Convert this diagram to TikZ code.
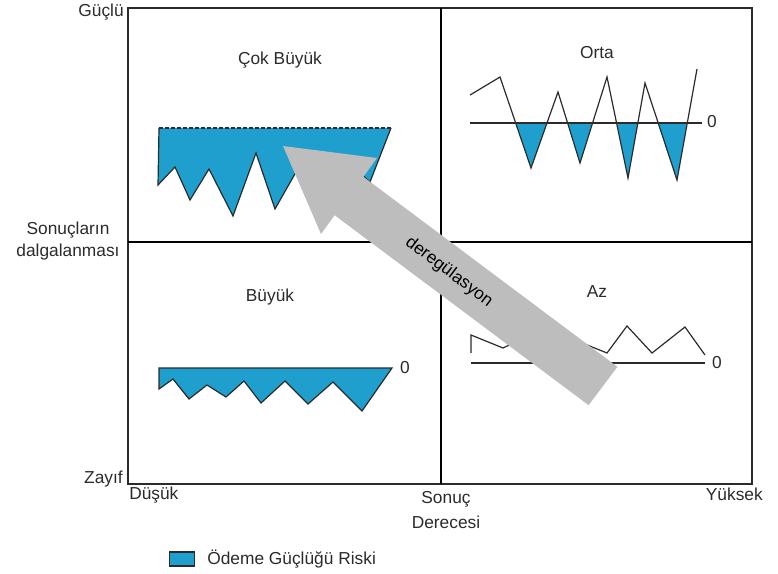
\documentclass[tikz,border=0pt]{standalone}
\usepackage{fontspec}
\setsansfont{Liberation Sans}
\usepackage{tikz}
\usetikzlibrary{positioning}
\definecolor{cRisk} {HTML}{1E9FCE}
\definecolor{cArrow}{HTML}{BDBDBD}
\definecolor{cInk}  {HTML}{2B2B2B}

\begin{document}
\begin{tikzpicture}[x=0.75pt, y=-0.75pt,
    lbl/.style={font=\sffamily\fontsize{13}{16.5}\selectfont, text=cInk, inner sep=0pt},
    curve/.style={draw=cInk, line width=0.9pt, line join=miter},
    frame/.style={draw=cInk, line width=1pt},
    divider/.style={draw=black, line width=1.9pt}]
  \useasboundingbox (0,0) rectangle (778,574);

  % frame and quadrants
  \draw[frame] (128,8) rectangle (752,484);
  \draw[divider] (441,8) -- (441,484);
  \draw[divider] (128,242) -- (752,242);

  % axis labels
  \node[lbl, anchor=east] (strong) at (124,12) {Güçlü};
  \node[lbl, align=center] (spread) at (68,241) {Sonuçların\\dalgalanması};
  \node[lbl, anchor=east] (weak) at (123,479) {Zayıf};
  \node[lbl, anchor=west] (low) at (129,495) {Düşük};
  \node[lbl, align=center, font=\sffamily\fontsize{13}{18.5}\selectfont] (degree) at (446,510) {Sonuç\\Derecesi};
  \node[lbl, anchor=east] (high) at (763,494) {Yüksek};

  % quadrant titles
  \node[lbl] (qVeryBig) at (280,60)  {Çok Büyük};
  \node[lbl] (qMid)     at (597,53)  {Orta};
  \node[lbl] (qBig)     at (270,297) {Büyük};
  \node[lbl] (qSmall)   at (597,292) {Az};

  % cok buyuk
  \fill[cRisk] (159,128) -- (158,185) -- (175,167) -- (190,200) -- (209,169) -- (233,216)
    -- (256,153) -- (275,209) -- (300,165) -- (322,222) -- (345,160) -- (370,182) -- (391,128) -- cycle;
  \draw[curve] (159,128) -- (158,185) -- (175,167) -- (190,200) -- (209,169) -- (233,216)
    -- (256,153) -- (275,209) -- (300,165) -- (322,222) -- (345,160) -- (370,182) -- (391,128);
  \draw[curve, dashed, dash pattern=on 3pt off 1.5pt] (159,128) -- (391,128);

  % orta
  \foreach \a/\b/\c/\d in {516/531/168/547, 568/580/163/592, 617/628/178/638, 658/677/180/687}
    \fill[cRisk] (\a,123) -- (\b,\c) -- (\d,123) -- cycle;
  \draw[curve] (470,123) -- (702,123);
  \draw[curve] (470,95) -- (500,77) -- (531,168) -- (558,92) -- (580,163) -- (607,77)
    -- (628,178) -- (645,83) -- (677,180) -- (697,69);
  \node[lbl] (zeroMid) at (712,122) {0};

  % buyuk
  \filldraw[curve, fill=cRisk] (159,368) -- (159,389) -- (173,379) -- (189,399) -- (207,385)
    -- (226,397) -- (244,381) -- (261,403) -- (285,381) -- (308,404) -- (333,382)
    -- (362,411) -- (392,368) -- cycle;
  \node[lbl] (zeroBig) at (405,368) {0};

  % az
  \draw[curve] (471,363) -- (705,363);
  \draw[curve] (471,353) -- (471,335) -- (503,348) -- (545,328) -- (607,353) -- (627,326)
    -- (652,353) -- (685,327) -- (705,355);
  \node[lbl] (zeroSmall) at (717,363) {0};

  % deregulation arrow
  \fill[cArrow] (283,146) -- (377,158) -- (363.4,176.8) -- (617.4,366.8) -- (588.6,405.2)
    -- (334.6,215.2) -- (321,234) -- cycle;
  \node[lbl, text=black, rotate=-37] (dereg) at (449,272) {deregülasyon};

  % legend
  \node[draw=cInk, line width=0.8pt, fill=cRisk, minimum width=25*0.75pt,
        minimum height=14*0.75pt, inner sep=0pt] (key) at (182,559) {};
  \node[lbl, right=9pt of key] (keyText) {Ödeme Güçlüğü Riski};
\end{tikzpicture}
\end{document}
